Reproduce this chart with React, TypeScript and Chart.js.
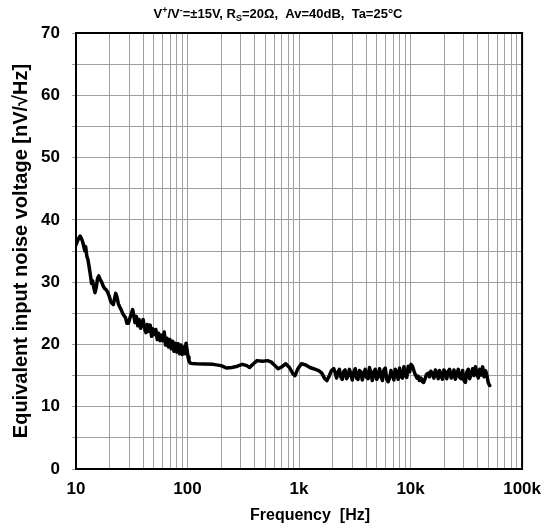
import React, { useEffect, useRef } from 'react';
import { Chart, registerables } from 'chart.js';

Chart.register(...registerables);

const FONT = '"Liberation Sans", Arial, Helvetica, sans-serif';

// ---- data: frequency [Hz] and equivalent input noise voltage [nV/√Hz] ----
const freqLow = [
  10, 10.3, 10.6, 10.9, 11.2, 11.5, 11.8, 12.0, 12.2, 12.5,
  12.8, 13.1, 13.5, 13.8, 14.1, 14.5, 14.8, 15.2, 15.6, 16.0,
  16.5, 17.0, 17.5, 18.0, 18.6, 19.2, 19.8, 20.4, 21.0, 21.6,
  22.2, 22.7, 23.3, 24.0, 24.7, 25.4, 26.2, 27.0, 27.8, 28.6,
  29.5, 30.4, 31.3, 32.2, 33.0, 33.8, 34.8, 35.8, 36.8, 37.9,
  39.0, 40.0, 41.2, 42.4, 43.6, 45.0, 46.3, 47.6, 49.0, 50.5,
  52.0, 53.5, 55.0, 56.6, 58.2, 60.0, 61.8, 63.6, 65.5, 67.4,
  69.4, 71.4, 73.5, 75.6, 77.8, 80.0, 82.4, 84.8, 87.3, 89.8,
  92.4, 95.0, 97.0, 99.0,
];
const noiseLow = [
  36.0, 36.6, 37.1, 37.4, 37.0, 36.4, 35.6, 35.0, 35.7, 34.2,
  33.6, 32.5, 31.0, 29.8, 30.2, 29.0, 28.3, 29.2, 30.6, 31.0,
  30.4, 30.0, 29.4, 29.0, 28.8, 28.4, 27.8, 27.0, 26.6, 26.4,
  27.4, 28.2, 27.6, 26.5, 26.0, 25.6, 25.0, 24.6, 24.3, 23.4,
  23.4, 24.2, 24.9, 25.6, 24.6, 23.5, 24.5, 23.0, 24.0, 22.6,
  23.5, 24.0, 22.5, 21.9, 23.2, 22.1, 23.1, 21.3, 22.5, 21.6,
  22.4, 20.8, 21.8, 20.6, 21.5, 20.6, 22.0, 19.9, 21.0, 19.6,
  20.8, 19.3, 20.5, 18.9, 20.2, 18.8, 20.1, 18.5, 19.9, 18.4,
  19.6, 18.5, 20.2, 19.2,
];
const freqMid = [
  101, 103, 106, 110, 120, 140, 170, 200, 225, 250,
  280, 310, 340, 360, 390, 420, 470, 520, 560, 600,
  650, 700, 760, 820, 880, 920, 970, 1050, 1150, 1250,
  1350, 1500, 1600, 1700, 1780, 1850, 1950,
];
const noiseMid = [
  18.0, 17.3, 17.0, 16.95, 16.9, 16.85, 16.8, 16.6, 16.2, 16.3,
  16.5, 16.8, 16.6, 16.3, 16.9, 17.4, 17.3, 17.4, 17.2, 16.7,
  16.1, 16.4, 16.9, 16.3, 15.3, 15.0, 16.0, 16.9, 16.7, 16.3,
  16.1, 15.8, 15.4, 14.5, 14.2, 14.8, 15.8,
];
const freqHigh = [
  2050, 2110, 2170, 2240, 2300, 2370, 2440, 2520, 2590, 2670,
  2750, 2830, 2920, 3000, 3090, 3190, 3280, 3380, 3480, 3590,
  3690, 3800, 3920, 4040, 4160, 4280, 4410, 4540, 4680, 4820,
  4970, 5120, 5270, 5430, 5590, 5760, 5930, 6110, 6290, 6480,
  6670, 6870, 7080, 7290, 7510, 7740, 7970, 8210, 8450, 8710,
  8970, 9240, 9510, 9800, 10100, 10400, 10700, 11000, 11400, 11700,
  12000, 12400, 12800, 13100, 13500, 13900, 14400, 14800, 15200, 15700,
  16200, 16700, 17200, 17700, 18200, 18800, 19300, 19900, 20500, 21100,
  21800, 22400, 23100, 23800, 24500, 25200, 26000, 26800, 27600, 28400,
  29300, 30100, 31000, 32000, 32900, 33900, 34900, 36000, 37100, 38200,
  39300, 40500, 41700, 43000, 44300, 45600, 47000, 48400, 49800, 51300,
];
const noiseHigh = [
  16.1, 15.4, 14.6, 15.6, 16.0, 14.8, 14.4, 15.7, 15.9, 14.5,
  14.9, 16.0, 15.2, 14.3, 15.5, 16.1, 14.6, 14.4, 15.8, 15.6,
  14.3, 15.2, 16.0, 14.7, 14.5, 16.3, 15.4, 14.2, 15.6, 16.0,
  14.4, 14.8, 16.1, 15.0, 14.2, 15.9, 16.2, 14.5, 14.0, 14.6,
  15.8, 15.2, 14.3, 16.0, 15.5, 14.4, 16.2, 14.8, 14.6, 16.4,
  15.0, 14.7, 16.5, 15.6, 16.8, 16.5, 15.8, 15.2, 14.6, 14.9,
  14.2, 14.6, 14.0, 13.9, 14.5, 15.2, 15.4, 14.8, 15.7, 15.3,
  14.6, 15.9, 15.4, 14.5, 15.8, 15.0, 14.4, 15.9, 15.5, 14.5,
  15.7, 16.0, 14.6, 14.9, 15.9, 14.4, 15.3, 16.0, 14.7, 14.5,
  15.8, 14.2, 13.9, 15.6, 16.0, 14.5, 15.2, 16.1, 15.0, 16.4,
  15.3, 14.6, 16.0, 15.1, 16.4, 14.8, 15.8, 15.0, 13.8, 13.4,
];

// ---- axis ticks ----
const xGridValues = [
  10, 20, 30, 40, 50, 60, 70, 80, 90,
  100, 200, 300, 400, 500, 600, 700, 800, 900,
  1000, 2000, 3000, 4000, 5000, 6000, 7000, 8000, 9000,
  10000, 20000, 30000, 40000, 50000, 60000, 70000, 80000, 90000,
  100000,
];
const xMajorValues = [10, 100, 1000, 10000, 100000];
const xMajorLabels = ['10', '100', '1k', '10k', '100k'];
const yLabelValues = [0, 10, 20, 30, 40, 50, 60, 70];

const xTitle = 'Frequency  [Hz]';
const yTitle = 'Equivalent input noise voltage [nV/√Hz]';
const titleParts: { t: string; k: 'n' | 'sup' | 'sub' }[] = [
  { t: 'V', k: 'n' },
  { t: '+', k: 'sup' },
  { t: '/V', k: 'n' },
  { t: '-', k: 'sup' },
  { t: '=±15V, R', k: 'n' },
  { t: 'S', k: 'sub' },
  { t: '=20Ω,  Av=40dB,  Ta=25°C', k: 'n' },
];

export default function App() {
  const ref = useRef<HTMLCanvasElement>(null);

  useEffect(() => {
    const canvas = ref.current;
    if (!canvas) return;
    const freqAll = [...freqLow, ...freqMid, ...freqHigh];
    const noiseAll = [...noiseLow, ...noiseMid, ...noiseHigh];
    const points = freqAll.map((f, i) => ({ x: f, y: noiseAll[i] }));

    const framePlugin = {
      id: 'frame',
      afterDraw(chart: any) {
        const { ctx, chartArea } = chart;
        const { left, top, right, bottom } = chartArea;
        ctx.save();
        ctx.strokeStyle = '#000';
        ctx.lineWidth = 2;
        ctx.strokeRect(left, top, right - left, bottom - top);
        ctx.restore();
      },
    };

    const textPlugin = {
      id: 'texts',
      afterDraw(chart: any) {
        const ctx = chart.ctx as CanvasRenderingContext2D;
        const big = `bold 13px ${FONT}`;
        const small = `bold 9px ${FONT}`;
        ctx.save();
        let total = 0;
        for (const p of titleParts) {
          ctx.font = p.k === 'n' ? big : small;
          total += ctx.measureText(p.t).width;
        }
        let x = 278 - total / 2;
        const base = 18;
        ctx.fillStyle = '#000';
        ctx.textBaseline = 'alphabetic';
        ctx.textAlign = 'left';
        for (const p of titleParts) {
          ctx.font = p.k === 'n' ? big : small;
          const dy = p.k === 'sup' ? -5 : p.k === 'sub' ? 3 : 0;
          ctx.fillText(p.t, x, base + dy);
          x += ctx.measureText(p.t).width;
        }
        // x axis title
        ctx.font = `bold 16px ${FONT}`;
        ctx.textAlign = 'center';
        ctx.textBaseline = 'middle';
        ctx.fillText(xTitle, 310, 516);
        ctx.restore();
      },
    };

    const chart = new Chart(canvas, {
      type: 'line',
      data: {
        datasets: [
          {
            data: points,
            borderColor: '#000',
            borderWidth: 3.5,
            borderJoinStyle: 'round',
            borderCapStyle: 'round',
            pointRadius: 0,
            tension: 0,
            fill: false,
          },
        ],
      },
      options: {
        animation: false,
        responsive: false,
        maintainAspectRatio: false,
        layout: { padding: { left: 9, right: 27, top: 33, bottom: 2 } },
        plugins: {
          legend: { display: false },
          tooltip: { enabled: false },
          title: { display: false },
        },
        scales: {
          x: {
            type: 'logarithmic',
            min: 10,
            max: 100000,
            afterBuildTicks: (s: any) => {
              s.ticks = xGridValues.map((v) => ({ value: v }));
            },
            afterFit: (s: any) => {
              s.height = 57;
            },
            ticks: {
              autoSkip: false,
              maxRotation: 0,
              minRotation: 0,
              padding: 10,
              color: '#000',
              font: { family: FONT, size: 17, weight: 'bold' },
              callback: (v: any) => {
                const i = xMajorValues.indexOf(Number(v));
                return i >= 0 ? xMajorLabels[i] : '';
              },
            },
            grid: { color: '#a0a0a0', lineWidth: 1, drawTicks: false },
            border: { display: false },
            title: { display: false },
          },
          y: {
            type: 'linear',
            min: 0,
            max: 70,
            afterFit: (s: any) => {
              s.width = 67;
            },
            ticks: {
              stepSize: 5,
              padding: 12,
              color: '#000',
              font: { family: FONT, size: 17, weight: 'bold' },
              callback: (v: any) => (yLabelValues.includes(Number(v)) ? String(v) : ''),
            },
            grid: { color: '#a0a0a0', lineWidth: 1, tickLength: 4 },
            border: { display: false },
            title: {
              display: true,
              text: yTitle,
              color: '#000',
              font: { family: FONT, size: 20, weight: 'bold' },
              padding: { top: 0, bottom: 0 },
            },
          },
        },
      } as any,
      plugins: [framePlugin, textPlugin],
    });

    return () => chart.destroy();
  }, []);

  return (
    <div style={{ position: 'absolute', left: 0, top: 0, width: 551, height: 528, background: '#fff' }}>
      <canvas ref={ref} width={551} height={528} style={{ display: 'block', width: 551, height: 528 }} />
    </div>
  );
}
